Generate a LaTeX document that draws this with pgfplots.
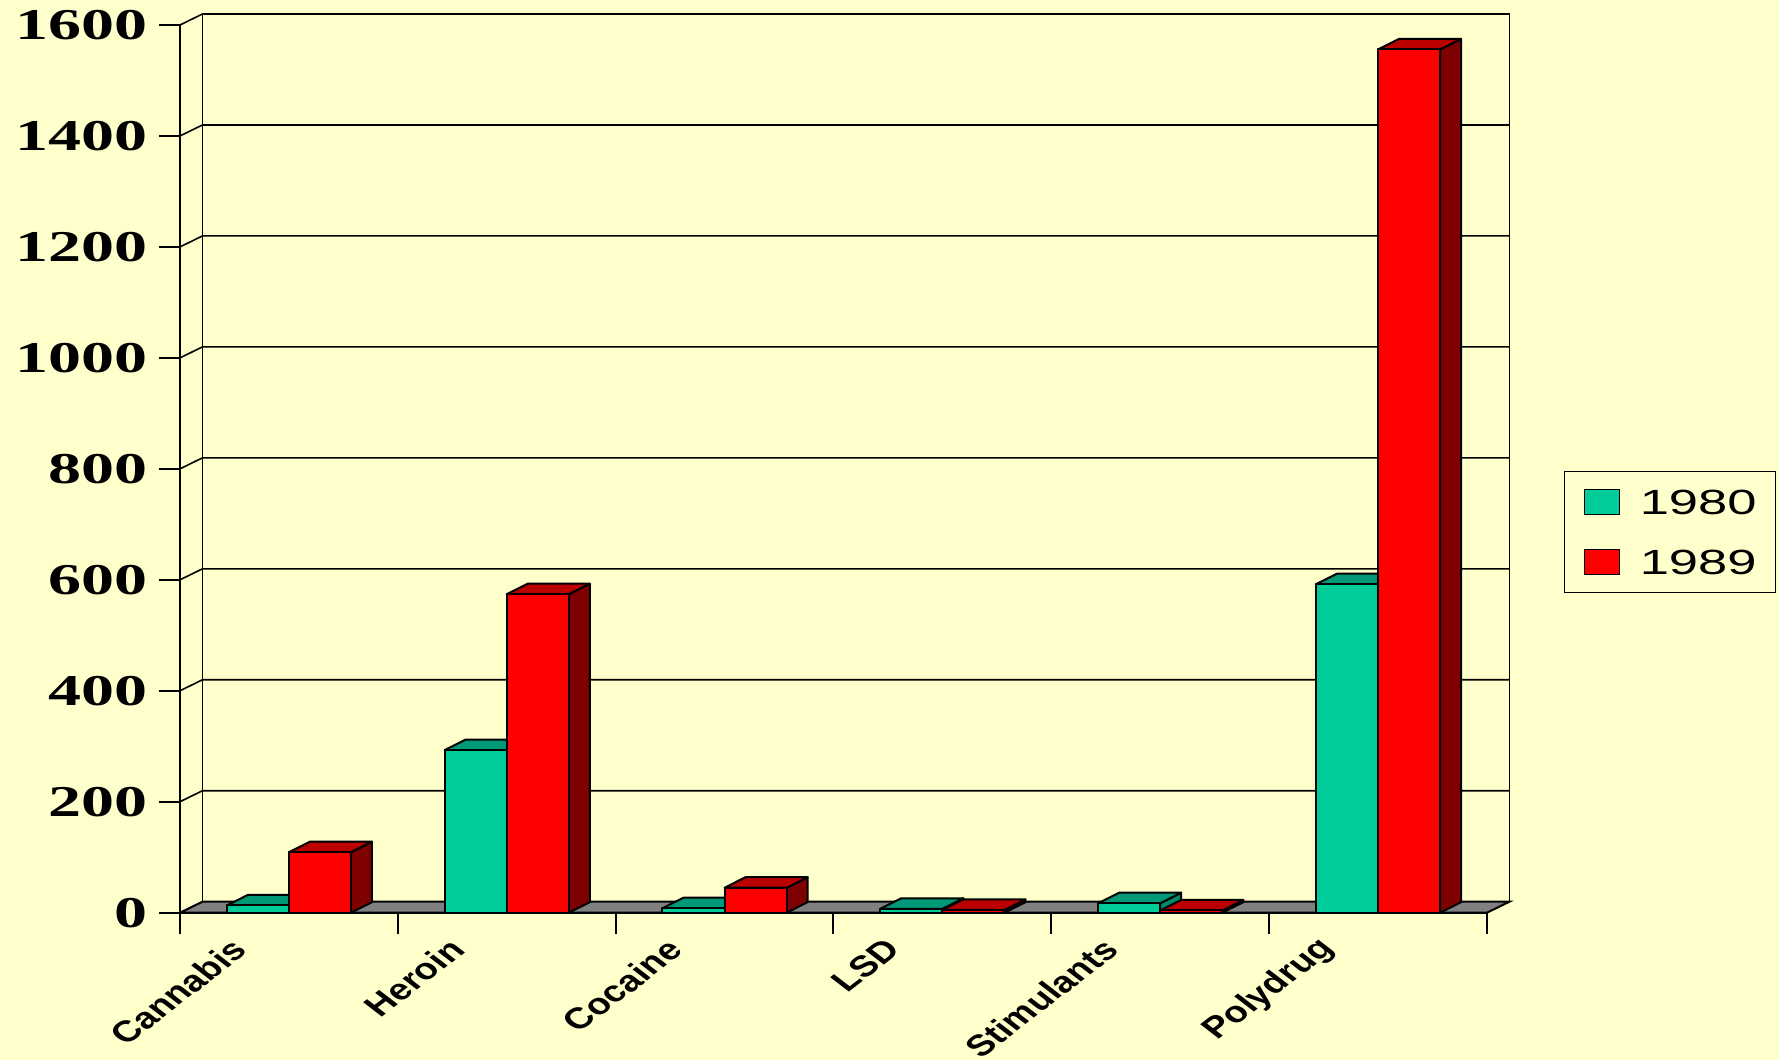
\documentclass[border=0pt]{standalone}
\usepackage{pgfplots}
\pgfplotsset{compat=1.18}
\usepackage{pgfplotstable}
\usepackage{fontspec}
\setmainfont{Liberation Sans}
\newfontfamily\tickfont{Liberation Serif}[FakeStretch=1.5]
\newfontfamily\catfont{Liberation Sans}
\newfontfamily\legfont{Liberation Sans}[FakeStretch=1.5]
\definecolor{bg}{HTML}{FFFFCC}
\definecolor{gfront}{HTML}{00CC99}
\definecolor{gtop}{HTML}{009977}
\definecolor{gside}{HTML}{008A6C}
\definecolor{rfront}{HTML}{FF0000}
\definecolor{rtop}{HTML}{BB0000}
\definecolor{rside}{HTML}{7F0000}
\definecolor{floorgray}{HTML}{808080}

\pgfplotstableread{
cat y1980 y1989
Cannabis 13 109
Heroin 293 574
Cocaine 8 45
LSD 7 5
Stimulants 17 4
Polydrug 592 1556
}\datatable

\newcommand\drawbar[5]{%
  \pgfmathsetmacro\bxa{#1}%
  \pgfmathsetmacro\bxb{#1+0.285}%
  \pgfmathsetmacro\bxc{#1+0.285+0.0964}%
  \pgfmathsetmacro\bxd{#1+0.0964}%
  \pgfmathsetmacro\bv{#2}%
  \pgfmathsetmacro\bvt{#2+19}%
  \edef\tmp{\noexpand\addplot[forget plot, fill=#5, draw=black, line width=0.5pt, line join=round] coordinates {(\bxb,0) (\bxc,19) (\bxc,\bvt) (\bxb,\bv)} -- cycle;}\tmp
  \edef\tmp{\noexpand\addplot[forget plot, fill=#4, draw=black, line width=0.5pt, line join=round] coordinates {(\bxa,\bv) (\bxb,\bv) (\bxc,\bvt) (\bxd,\bvt)} -- cycle;}\tmp
  \edef\tmp{\noexpand\addplot[forget plot, fill=#3, draw=black, line width=0.5pt, line join=round] coordinates {(\bxa,0) (\bxb,0) (\bxb,\bv) (\bxa,\bv)} -- cycle;}\tmp
}

\begin{document}
\begin{tikzpicture}
\fill[bg] (0,0) rectangle (444.75pt,265pt);
\path[use as bounding box] (0,0) rectangle (444.75pt,265pt);
\begin{axis}[
  at={(45pt,36.825pt)}, anchor=south west,
  scale only axis, width=326.75pt, height=221.925pt,
  xmin=0, xmax=6, ymin=0, ymax=1600, clip=false,
  axis lines*=left, axis line style={-, line width=0.5pt},
  tick align=outside, major tick length=5.25pt,
  tick style={black, line width=0.5pt},
  xtick={0,1,...,6}, x tick label as interval,
  xticklabels={Cannabis,Heroin,Cocaine,LSD,Stimulants,Polydrug},
  ytick={0,200,...,1600},
  /pgf/number format/assume math mode=true,
  /pgf/number format/1000 sep={},
  yticklabel style={font=\fontsize{11pt}{13pt}\tickfont\bfseries, inner sep=0pt, xshift=-2.75pt},
  xticklabel style={xshift=-12.25pt, yshift=-2.6pt, xscale=1.3, rotate=45, anchor=east, inner sep=0pt, font=\fontsize{7.4pt}{9pt}\catfont\bfseries},
  legend image code/.code={\draw[#1] (0pt,-3.125pt) rectangle (8.75pt,3.125pt); \path (13.75pt,0pt);},
  legend style={at={(1.0589,0.4976)}, anchor=north west, draw=black, line width=0.3pt, fill=bg,
    inner xsep=4.75pt, inner ysep=4.35pt, row sep=8.45pt,
    font=\fontsize{8.75pt}{10pt}\legfont,
    nodes={inner sep=0pt, text height=6.3pt, text depth=0pt}},
  legend cell align=left,
]
% back wall and grid
\foreach \yy in {200,400,...,1600}{
  \edef\tmp{\noexpand\draw[black, line width=0.4pt] (axis cs:0,\yy) -- (axis cs:0.103,\yy+19.8) -- (axis cs:6.103,\yy+19.8);}\tmp
}
\draw[black, line width=0.45pt] (axis cs:0.103,19.8) -- (axis cs:0.103,1619.8) -- (axis cs:6.103,1619.8) -- (axis cs:6.103,19.8);
\draw[black, line width=0.5pt, fill=floorgray] (axis cs:0,0) -- (axis cs:6,0) -- (axis cs:6.103,19.8) -- (axis cs:0.103,19.8) -- cycle;
\pgfplotsinvokeforeach{0,...,5}{
  \pgfplotstablegetelem{#1}{y1980}\of\datatable
  \let\valA\pgfplotsretval
  \pgfplotstablegetelem{#1}{y1989}\of\datatable
  \let\valB\pgfplotsretval
  \drawbar{#1+0.215}{\valA}{gfront}{gtop}{gside}
  \drawbar{#1+0.5}{\valB}{rfront}{rtop}{rside}
}
\addlegendimage{fill=gfront, draw=black, line width=0.3pt}
\addlegendentry{1980}
\addlegendimage{fill=rfront, draw=black, line width=0.3pt}
\addlegendentry{1989}
\end{axis}
\end{tikzpicture}
\end{document}
